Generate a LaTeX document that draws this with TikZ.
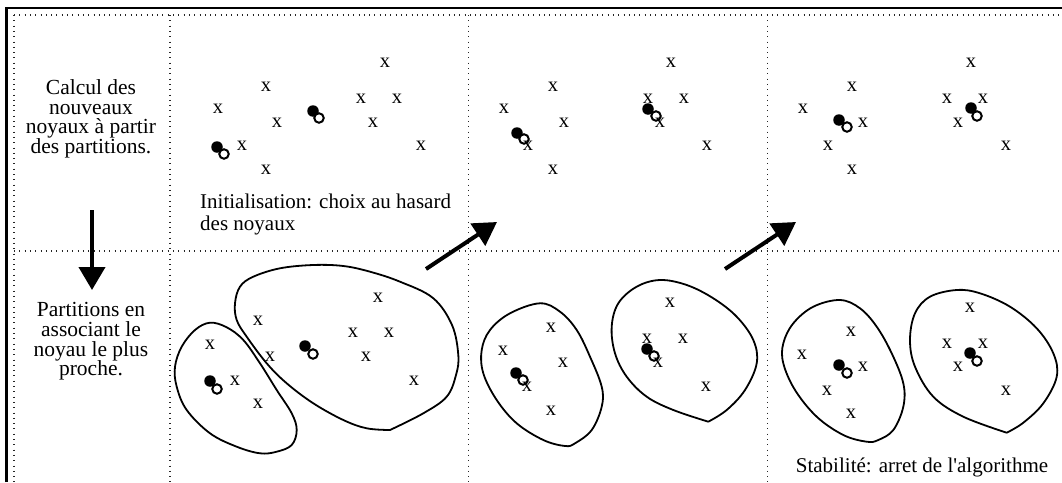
\documentclass[tikz,border=0pt]{standalone}
\usepackage{fontspec}
\setmainfont{Liberation Serif}
\newfontfamily\rawserif{Liberation Serif}
\usetikzlibrary{arrows.meta}
\begin{document}
\begin{tikzpicture}[x=1pt,y=-1pt,
  heavy/.style={line width=2.5pt},
  dotline/.style={line width=1.2pt,black!85,dash pattern=on 1pt off 4.3pt},
  blob/.style={line width=1.8pt},
  xm/.style={inner sep=0pt,font=\fontsize{20.5}{22}\selectfont},
  nucold/.style={circle,fill=black,inner sep=0pt,minimum size=11.5pt},
  nucnew/.style={circle,draw=black,fill=white,line width=2pt,inner sep=0pt,minimum size=9.5pt},
  bigarrow/.style={line width=4pt,-{Triangle[length=23pt,width=26pt]}},
  lbl/.style={inner sep=0pt,font=\fontsize{21.5}{19.7}\selectfont,align=center},
  captext/.style={inner sep=0pt,font=\fontsize{21}{22}\selectfont,align=left},
]
\useasboundingbox (0,0) rectangle (1062,482);
% frame
\coordinate (fbl) at (6.5,482);
\coordinate (ftl) at (6.5,8);
\coordinate (ftr) at (1062,8);
\draw[heavy] (fbl) -- (ftl) -- (ftr);
% dotted grid
\coordinate (gt0) at (14,15);   \coordinate (gt1) at (1062,15);
\coordinate (gm0) at (14,251);  \coordinate (gm1) at (1062,251);
\draw[dotline] (gt0) -- (gt1);
\draw[dotline] (gm0) -- (gm1);
\foreach \gx [count=\i] in {14,170,468.5,767.5}{
  \coordinate (v\i a) at (\gx,15);
  \coordinate (v\i b) at (\gx,482);
  \draw[dotline] (v\i a) -- (v\i b);
}
% left texts
\node[lbl,anchor=north] (t1) at (91,79.3) {Calcul des\\nouveaux\\noyaux à partir\\des partitions.};
\node[lbl,anchor=north] (t2) at (91,302.3) {Partitions en\\associant le\\noyau le plus\\proche.};
\node[captext,anchor=north west] (t3) at (200,193.5) {Initialisation: choix au hasard\\des noyaux};
\node[captext,anchor=base] (t4) at (922,472) {\rawserif Stabilité: arret de l'algorithme};
% arrows
\coordinate (d1) at (92,210);  \coordinate (d2) at (92,290);
\draw[bigarrow] (d1) -- (d2);
\coordinate (a1) at (426,269); \coordinate (a2) at (497,222);
\draw[bigarrow] (a1) -- (a2);
\coordinate (b1) at (725,269); \coordinate (b2) at (796,222);
\draw[bigarrow] (b1) -- (b2);
% blobs panel 1
\draw[blob] plot[smooth cycle,tension=0.6] coordinates {(210,322.7) (226.7,327.3) (243.3,340) (260,363.3) (276.7,390) (291.7,413.3) (296.7,430) (291.7,445) (276.7,451.7) (260,453.3) (236.7,446.7) (210,433.3) (186.7,410) (176.7,386.7) (175,366.7) (181.7,346.7) (195,330)};
\draw[blob] plot[smooth,tension=0.6] coordinates {(390,430) (423.3,413.3) (446.7,396.7) (456,375) (458.3,355) (452,325) (433,298) (400,281.7) (370,271.7) (343.3,266) (313.3,265) (280,268.3) (253.3,276.7) (240,286.7) (235,303.3) (236.7,320) (246.7,336.7) (266.7,363.3) (286.7,383.3) (313.3,403.3) (343.3,420) (366.7,428.3) (390,430)};
% blobs panel 2
\draw[blob] plot[smooth cycle,tension=0.6] coordinates {(540,303.3) (560,311.7) (576.7,330) (590,356.7) (601.7,386.7) (601.7,406.7) (591.7,430) (575,443.3) (565,446) (543.3,440) (516.7,423.3) (496.7,400) (483.3,373.3) (481.7,350) (490,330) (510,313.3)};
\draw[blob] plot[smooth,tension=0.6] coordinates {(708.3,421.7) (726.7,410) (745,390) (756.7,363.3) (753.3,340) (736.7,316.7) (713.3,298.3) (686.7,285) (660,280) (636.7,286.7) (618.3,303.3) (611.7,326.7) (615,353.3) (626.7,376.7) (646.7,396.7) (673.3,410) (708.3,421.7)};
% blobs panel 3
\draw[blob] plot[smooth cycle,tension=0.6] coordinates {(840,300) (860,308.3) (876.7,326.7) (891.7,353.3) (903.3,383.3) (903.3,406.7) (893.3,430) (878.3,440) (866.7,441.7) (843.3,435) (816.7,416.7) (795,390) (783.3,363.3) (783.3,343.3) (793.3,323.3) (813.3,306.7)};
\draw[blob] plot[smooth,tension=0.6] coordinates {(1006.7,432.7) (1023.3,422.7) (1043.3,403.3) (1056.7,376.7) (1053.3,353.3) (1036.7,328.3) (1010,306.7) (980,293.3) (956.7,290) (930,296.7) (915,313.3) (910,340) (915,366.7) (933.3,396.7) (963.3,416.7) (1006.7,432.7)};
% nuclei
\foreach \fx/\fy/\ox/\oy [count=\i] in {313/111/319/118, 217/147/224/154, 305/346/313/354, 210/381/217/389, 517/133/524/139, 648/109/656/116, 516/373/523/380, 647/349/654/356, 839/120/847/127, 971/108/977/116, 839/365/847/373, 970/353/977/361}{
  \node[nucold] (f\i) at (\fx,\fy) {};
  \node[nucnew] (o\i) at (\ox,\oy) {};
}
% points
\foreach \px/\py [count=\i] in {
  385/63, 266/87, 218/109, 277/123, 361/99, 397/99, 373/123, 242/146, 421/146, 266/170,
  378/298, 258/321, 210/345, 270/357, 353/333, 389/333, 366/357, 235/381, 414/381, 258/404,
  671/63, 553/87, 504/109, 564/123, 648/99, 684/99, 660/123, 528/146, 707/146, 553/170,
  670/303, 551/328, 503/351, 563/363, 647/339, 683/339, 658/363, 527/387, 706/387, 551/411,
  971/63, 852/87, 803/109, 863/123, 947/99, 983/99, 958/123, 828/146, 1006/146, 852/170,
  970/308, 851/332, 802/355, 863/367, 947/344, 983/344, 958/367, 827/391, 1006/391, 851/414}{
  \node[xm] (x\i) at (\px,\py) {x};
}
\end{tikzpicture}
\end{document}
